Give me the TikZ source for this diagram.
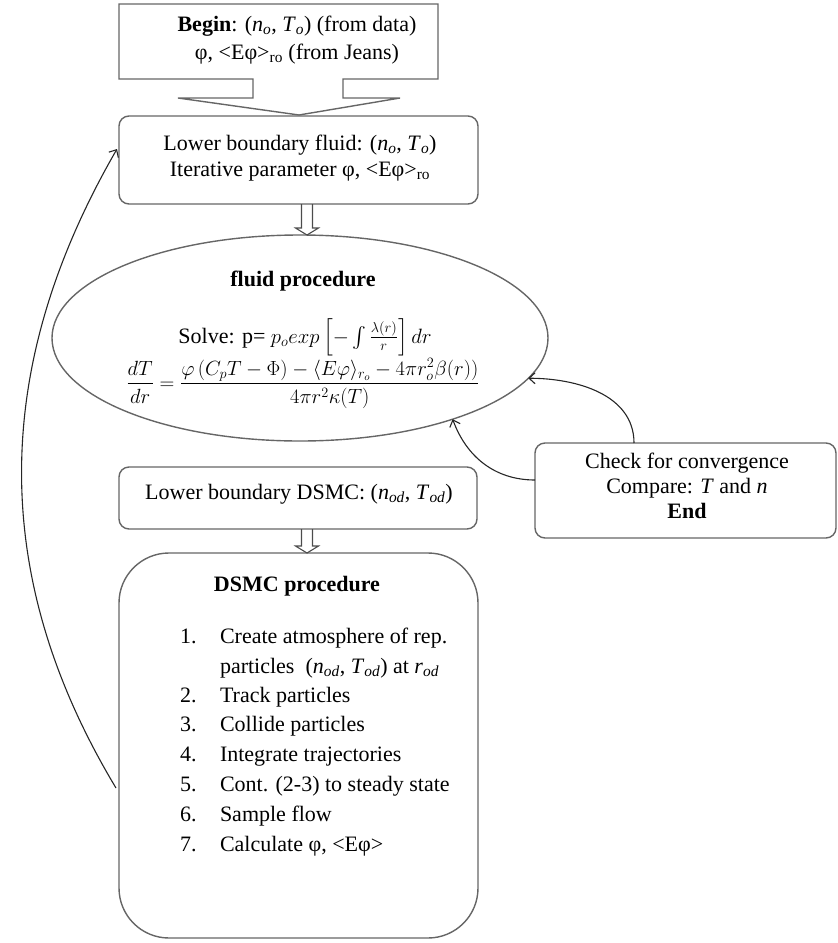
\documentclass[tikz,border=0pt]{standalone}
\usepackage{amsmath}
\usepackage{graphicx}
\usepackage{fontspec}
\setmainfont{Liberation Serif}
\usetikzlibrary{shapes.geometric,arrows.meta,calc}
\newcommand\isub[2]{\textit{#1}\textsubscript{\textit{#2}}}
\begin{document}
\begin{tikzpicture}[x=1pt,y=1pt,
  every node/.style={font=\fontsize{22}{26}\selectfont, inner sep=0pt, outer sep=0pt},
  boxline/.style={draw=black!60, line width=1.4pt},
  rbox/.style={boxline, rounded corners=10pt},
  arr/.style={draw=black!85, line width=1.1pt, -{Straight Barb[length=6pt,width=11pt]}},
  txt/.style={anchor=base},
  ltxt/.style={anchor=base west},
  harrow/.style={draw=black!70, line width=1.1pt, line join=miter},
]
\useasboundingbox (0,0) rectangle (838,-943);

% Begin callout box
\draw[boxline, line join=miter] (119,-4) -- (438,-4) -- (438,-79) -- (343,-79) -- (343,-98) -- (400,-98) -- (299,-115) -- (178,-98) -- (253,-98) -- (253,-79) -- (119,-79) -- cycle;
\node[txt] (begin1) at (297,-31) {\textbf{Begin}: (\isub{n}{o}, \isub{T}{o}) (from data)};
\node[txt] (begin2) at (297,-59) {φ, <Eφ>\textsubscript{ro} (from Jeans)};

% Lower boundary fluid
\node[rbox, minimum width=359, minimum height=88] (lbf) at (298.5,-160) {};
\node[txt] (lbf1) at (300,-150) {Lower boundary fluid: (\isub{n}{o}, \isub{T}{o})};
\node[txt] (lbf2) at (300,-176) {Iterative parameter φ, <Eφ>\textsubscript{ro}};

% fluid procedure ellipse
\node[ellipse, boxline, minimum width=496, minimum height=206] (fluid) at (300,-338) {};
\node[txt] (fl1) at (303,-286) {\textbf{fluid procedure}};
\node[txt] (fl2) at (305,-343) {Solve: p= $p_o exp\left[-\int\frac{\lambda(r)}{r}\right]dr$};
\node[txt] (fl3) at (303,-389) {\resizebox{353pt}{!}{$\displaystyle\frac{dT}{dr}=\frac{\varphi\left(C_pT-\Phi\right)-\langle E\varphi\rangle_{r_o}-4\pi r_o^2\beta(r))}{4\pi r^2\kappa(T)}$}};

% Lower boundary DSMC
\node[rbox, minimum width=358, minimum height=62] (dsmcb) at (298,-498) {};
\node[txt] (db1) at (299,-499) {Lower boundary DSMC: (\isub{n}{od}, \isub{T}{od})};

% DSMC procedure
\node[boxline, rounded corners=50pt, minimum width=359, minimum height=385] (dsmcp) at (298.5,-745.5) {};
\node[txt] (dp0) at (297,-591) {\textbf{DSMC procedure}};
\node[ltxt] (n1) at (180,-643) {1.};
\node[ltxt] (t1) at (220,-643) {Create atmosphere of rep.};
\node[ltxt] (t1b) at (220,-673) {particles\ \ (\isub{n}{od}, \isub{T}{od}) at \isub{r}{od}};
\node[ltxt] (n2) at (180,-702) {2.};
\node[ltxt] (t2) at (220,-702) {Track particles};
\node[ltxt] (n3) at (180,-731) {3.};
\node[ltxt] (t3) at (220,-731) {Collide particles};
\node[ltxt] (n4) at (180,-761) {4.};
\node[ltxt] (t4) at (220,-761) {Integrate trajectories};
\node[ltxt] (n5) at (180,-791) {5.};
\node[ltxt] (t5) at (220,-791) {Cont. (2-3) to steady state};
\node[ltxt] (n6) at (180,-821) {6.};
\node[ltxt] (t6) at (220,-821) {Sample flow};
\node[ltxt] (n7) at (180,-851) {7.};
\node[ltxt] (t7) at (220,-851) {Calculate φ, <Eφ>};

% Check box
\node[rbox, minimum width=301, minimum height=95] (check) at (685.5,-490.5) {};
\node[txt] (c1) at (687,-468) {Check for convergence};
\node[txt] (c2) at (687,-493) {Compare: \textit{T} and \textit{n}};
\node[txt] (c3) at (687,-518) {\textbf{End}};

% hollow arrows
\coordinate (h1s) at ([xshift=8.5]lbf.south);
\coordinate (h1t) at (h1s |- fluid.north);
\draw[harrow] ([xshift=-5.5]h1s) -- ([xshift=-5.5,yshift=7]h1t) -- ([xshift=-11.5,yshift=7]h1t) -- (h1t) -- ([xshift=11.5,yshift=7]h1t) -- ([xshift=5.5,yshift=7]h1t) -- ([xshift=5.5]h1s);
\coordinate (h2s) at ([xshift=9]dsmcb.south);
\coordinate (h2t) at (h2s |- dsmcp.north);
\draw[harrow] ([xshift=-5.5]h2s) -- ([xshift=-5.5,yshift=7]h2t) -- ([xshift=-11.5,yshift=7]h2t) -- (h2t) -- ([xshift=11.5,yshift=7]h2t) -- ([xshift=5.5,yshift=7]h2t) -- ([xshift=5.5]h2s);

% curved arrows
\draw[arr] ([xshift=-3,yshift=-42.5]dsmcp.west) to[out=121,in=240] ([xshift=-2,yshift=11]lbf.west);
\draw[arr] ([xshift=-51.5]check.north) to[out=90,in=0] (fluid.-10);
\draw[arr] ([yshift=10.5]check.west) to[out=180,in=-70] (fluid.-28);
\end{tikzpicture}
\end{document}
